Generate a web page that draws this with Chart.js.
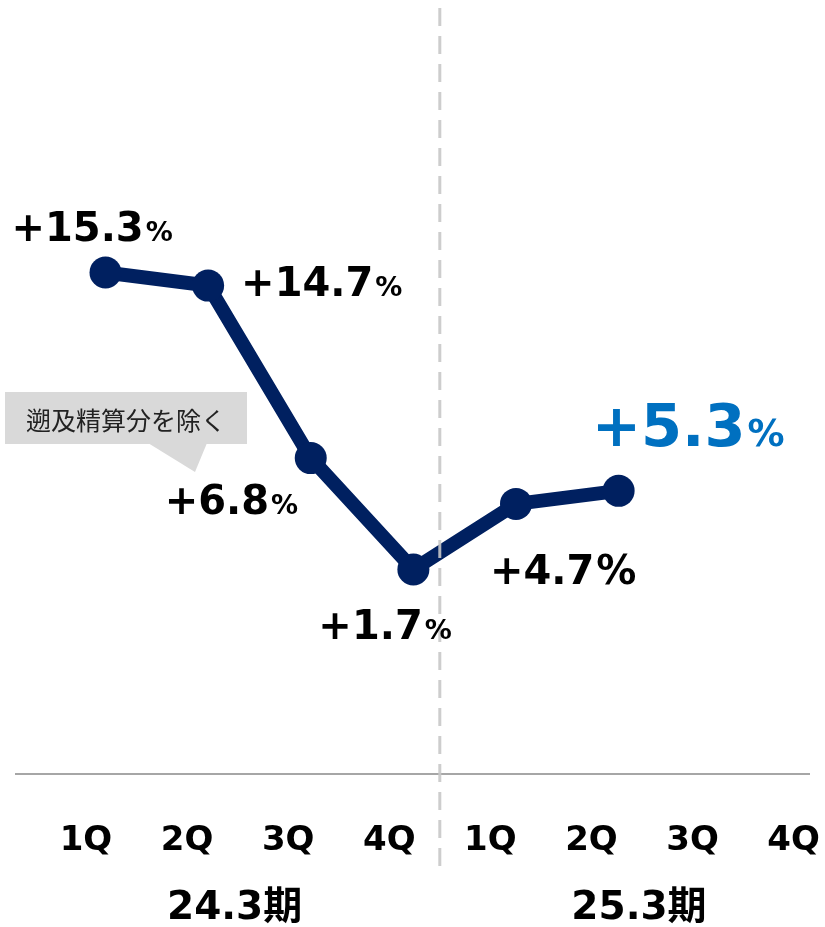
<!DOCTYPE html>
<html>
<head>
<meta charset="utf-8">
<script src="https://cdn.jsdelivr.net/npm/chart.js@4"></script>
<style>
  html, body { margin: 0; padding: 0; background: #fff; }
  #wrap { width: 825px; height: 927px; }
</style>
</head>
<body>
<div id="wrap"><canvas id="growthCanvas" width="825" height="927"></canvas></div>
<script>
const quarters = ["1Q","2Q","3Q","4Q","1Q","2Q","3Q","4Q"]
const periods = ["24.3期","25.3期"]
const growth = [15.3, 14.7, 6.8, 1.7, 4.7, 5.3]
const note = "遡及精算分を除く"

const navy = "#002060"
const blue = "#0070C0"
// tick labels sit a bit left of the points and slightly tighter
const tickAt = (k) => k * 0.985 - 0.19

// where each value label sits relative to its point (px)
const labelPos = [
    {dx: -94, dy: -32, size: 40, pct: 27, color: "#000"},
    {dx: 33, dy: 10, size: 40, pct: 27, color: "#000"},
    {dx: -146, dy: 56, size: 40, pct: 27, color: "#000"},
    {dx: -95, dy: 70, size: 40, pct: 27, color: "#000"},
    {dx: -26, dy: 80, size: 40, pct: 40, color: "#000"},
    {dx: -27, dy: -45, size: 59, pct: 37, color: blue}
]

const overlay = {
    id: "overlay",
    afterDatasetsDraw(chart) {
        const ctx = chart.ctx
        const xs = chart.scales.x
        const ys = chart.scales.y
        ctx.save()

        // dashed divider between the two fiscal years
        const divX = xs.getPixelForValue(tickAt(3.5))
        ctx.strokeStyle = "rgba(200,200,200,0.9)"
        ctx.lineWidth = 3
        ctx.setLineDash([18, 10])
        ctx.beginPath()
        ctx.moveTo(divX, 8)
        ctx.lineTo(divX, 870)
        ctx.stroke()
        ctx.setLineDash([])

        // value labels
        ctx.textBaseline = "alphabetic"
        ctx.textAlign = "left"
        growth.forEach((v, i) => {
            const p = labelPos[i]
            const px = xs.getPixelForValue(i) + p.dx
            const py = ys.getPixelForValue(v) + p.dy
            const main = "+" + v.toFixed(1)
            ctx.fillStyle = p.color
            ctx.font = "bold " + p.size + "px 'DejaVu Sans'"
            ctx.fillText(main, px, py)
            const w = ctx.measureText(main).width
            ctx.font = "bold " + p.pct + "px 'DejaVu Sans'"
            ctx.fillText("%", px + w + 2, py)
        })

        // callout box
        ctx.fillStyle = "#D9D9D9"
        ctx.fillRect(5, 392, 242, 52)
        ctx.beginPath()
        ctx.moveTo(148, 443)
        ctx.lineTo(207, 443)
        ctx.lineTo(195, 472)
        ctx.closePath()
        ctx.fill()
        ctx.fillStyle = "#222"
        ctx.font = "25px 'Noto Sans CJK JP'"
        ctx.textAlign = "center"
        ctx.textBaseline = "middle"
        ctx.fillText(note, 126, 420)

        // fiscal year labels
        ctx.fillStyle = "#000"
        ctx.font = "bold 39px 'DejaVu Sans', 'Noto Sans CJK JP'"
        periods.forEach((t, k) => {
            const a = xs.getPixelForValue(tickAt(k * 4))
            const b = xs.getPixelForValue(tickAt(k * 4 + 3))
            ctx.fillText(t, (a + b) / 2 - 3, 909)
        })
        ctx.restore()
    }
}

const growthChart = new Chart(document.getElementById("growthCanvas"), {
    type: "line",
    data: {
        datasets: [{
            data: growth.map((v, i) => ({x: i, y: v})),
            borderColor: navy,
            backgroundColor: navy,
            borderWidth: 14,
            pointRadius: 16,
            pointBackgroundColor: navy,
            pointBorderWidth: 0,
            tension: 0
        }]
    },
    options: {
        responsive: false,
        animation: false,
        layout: {padding: {left: 14, right: 9, top: 0, bottom: 65}},
        plugins: {legend: {display: false}, tooltip: {enabled: false}},
        scales: {
            x: {
                type: "linear",
                min: -0.872,
                max: 6.855,
                grid: {display: true, drawOnChartArea: false, drawTicks: true, tickLength: 47, tickColor: "rgba(0,0,0,0)"},
                border: {display: true, color: "#A6A6A6", width: 2},
                afterBuildTicks: (axis) => {
                    axis.ticks = quarters.map((q, k) => ({value: tickAt(k)}))
                },
                ticks: {
                    autoSkip: false,
                    maxRotation: 0,
                    padding: 0,
                    color: "#000",
                    font: {family: "'DejaVu Sans'", weight: "bold", size: 34},
                    callback: (val, idx) => quarters[idx]
                }
            },
            y: {
                display: false,
                min: -7.68,
                max: 27.05
            }
        }
    },
    plugins: [overlay]
})
</script>
</body>
</html>
